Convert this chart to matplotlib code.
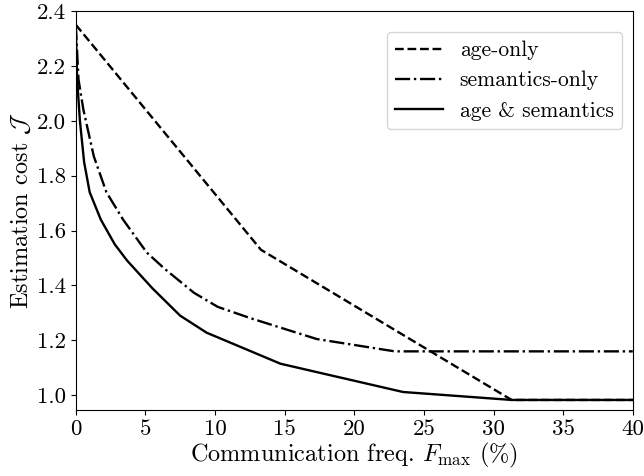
import matplotlib
matplotlib.use("Agg")
import matplotlib.pyplot as plt

plt.rcParams['font.family'] = 'serif'
plt.rcParams['font.serif'] = ['cmr10']
plt.rcParams['mathtext.fontset'] = 'cm'
plt.rcParams['axes.formatter.use_mathtext'] = True
plt.rcParams['axes.unicode_minus'] = False

# Data
age_x = [0, 13.3, 31.3, 40]
age_y = [2.35, 1.53, 0.983, 0.983]

sem_x = [0, 0.2, 0.55, 1.3, 2.2, 3.4, 5.1, 6.4, 8.5, 10.2, 12.6, 17.3, 22.9, 40]
sem_y = [2.35, 2.15, 2.04, 1.87, 1.74, 1.64, 1.52, 1.46, 1.373, 1.322, 1.28, 1.205, 1.16, 1.16]

both_x = [0, 0.1, 0.3, 0.6, 1.0, 1.8, 2.8, 3.7, 5.5, 7.5, 9.4, 14.7, 23.5, 31.3, 40]
both_y = [2.35, 2.15, 2.0, 1.85, 1.74, 1.64, 1.55, 1.49, 1.39, 1.29, 1.228, 1.115, 1.012, 0.983, 0.983]

labels = ['age-only', 'semantics-only', 'age & semantics']
xticks = [0, 5, 10, 15, 20, 25, 30, 35, 40]
yticks = [1.0, 1.2, 1.4, 1.6, 1.8, 2.0, 2.2, 2.4]

fig = plt.figure(figsize=(6.44, 4.76), dpi=100)
ax = fig.add_axes([0.1176, 0.139, 0.8650, 0.838])

ax.plot(age_x, age_y, 'k--', lw=1.7, label=labels[0])
ax.plot(sem_x, sem_y, 'k-.', lw=1.7, label=labels[1])
ax.plot(both_x, both_y, 'k-', lw=1.7, label=labels[2])

ax.set_xlim(0, 40)
ax.set_ylim(0.947, 2.4)
ax.set_xticks(xticks)
ax.set_yticks(yticks)
ax.set_yticklabels([f'{v:.1f}' for v in yticks])
ax.set_xticklabels([str(v) for v in xticks])
ax.tick_params(labelsize=16.5)

ax.set_xlabel(r'Communication freq. $F_{\rm max}$ $(\%)$', fontsize=17.5, labelpad=1)
ax.set_ylabel(r'Estimation cost $\mathcal{J}$', fontsize=17.5, labelpad=3)

ax.legend(loc='upper right', bbox_to_anchor=(0.981, 0.947), borderaxespad=0,
          fontsize=15.5, handlelength=2.2)

fig.savefig('out.png', dpi=100)
